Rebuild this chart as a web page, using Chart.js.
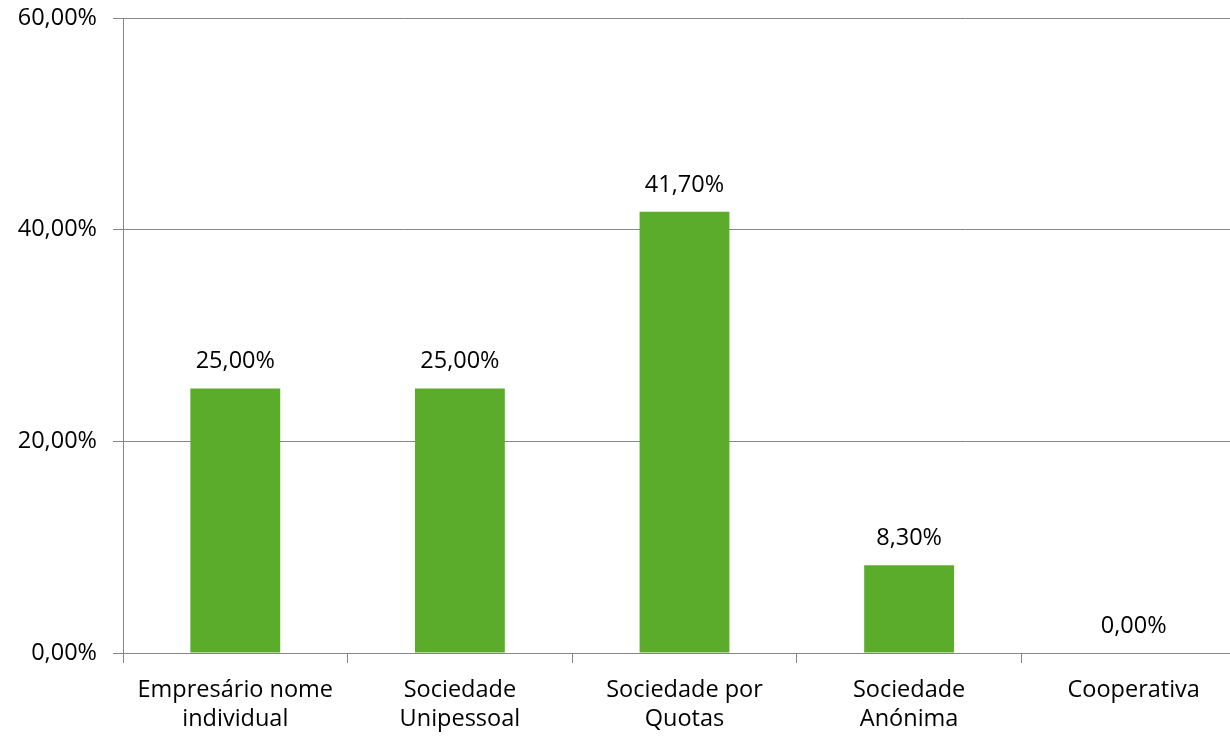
<!DOCTYPE html>
<html>
<head>
<meta charset="utf-8">
<script src="https://cdn.jsdelivr.net/npm/chart.js@4/dist/chart.umd.min.js"></script>
<style>
html,body{margin:0;padding:0;background:#fff;overflow:hidden;}
#wrap{width:1230px;height:737px;position:relative;overflow:hidden;}
#c{display:block;}
</style>
</head>
<body>
<div id="wrap"><canvas id="c" width="1246" height="737"></canvas></div>
<script>
const categories = [["Empresário nome","individual"],["Sociedade","Unipessoal"],["Sociedade por","Quotas"],["Sociedade","Anónima"],["Cooperativa"]];
const values = [25.0, 25.0, 41.7, 8.3, 0.0];
const yTicks = [0, 20, 40, 60];

const FONT = "'Open Sans', sans-serif";
const FS = 23.5;
const fmt = v => v.toFixed(2).replace('.', ',') + '%';

const labelPlugin = {
  id: 'barLabels',
  afterDatasetsDraw(chart) {
    const ctx = chart.ctx;
    const meta = chart.getDatasetMeta(0);
    ctx.save();
    ctx.font = FS + 'px ' + FONT;
    ctx.fillStyle = '#000';
    ctx.textAlign = 'center';
    ctx.textBaseline = 'alphabetic';
    meta.data.forEach((bar, i) => {
      ctx.fillText(fmt(values[i]), bar.x, bar.y - 20);
    });
    ctx.restore();
  }
};

new Chart(document.getElementById('c'), {
  type: 'bar',
  data: {
    labels: categories,
    datasets: [{
      data: values,
      backgroundColor: '#5aac2a',
      borderWidth: 0,
      categoryPercentage: 1,
      barPercentage: 0.4
    }]
  },
  options: {
    responsive: false,
    animation: false,
    layout: { padding: { top: 18, right: 0, left: 0, bottom: 0 } },
    plugins: { legend: { display: false }, tooltip: { enabled: false } },
    scales: {
      x: {
        offset: true,
        grid: { offset: true, drawOnChartArea: false, color: '#868686', tickLength: 10 },
        border: { color: '#868686' },
        ticks: { font: { family: FONT, size: FS, lineHeight: 1.27 }, color: '#000', padding: 12, maxRotation: 0, autoSkip: false },
        afterFit(s) { s.height = 84; s.paddingLeft = 0; s.paddingRight = 0; }
      },
      y: {
        min: 0, max: 60,
        afterBuildTicks(s) { s.ticks = yTicks.map(v => ({ value: v })); },
        grid: { color: '#868686', tickLength: 10 },
        border: { color: '#868686' },
        ticks: { font: { family: FONT, size: FS }, color: '#000', padding: 16, callback: v => fmt(v) },
        afterFit(s) { s.width = 123; s.paddingTop = 0; s.paddingBottom = 0; }
      }
    }
  },
  plugins: [labelPlugin]
});
</script>
</body>
</html>
